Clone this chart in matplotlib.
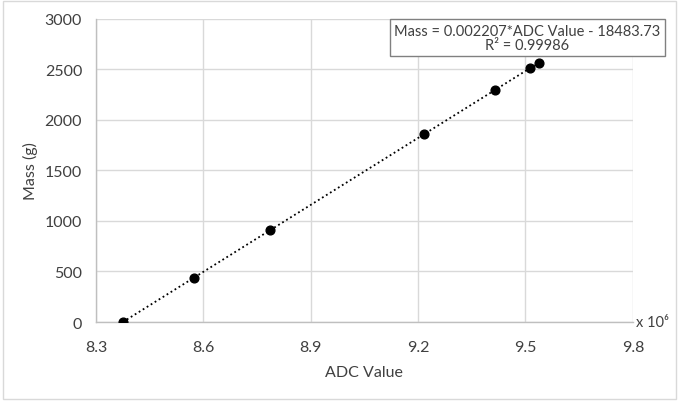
import numpy as np
import matplotlib.pyplot as plt
from matplotlib.patches import Rectangle

# datos
adc_value = [8375000, 8574000, 8787000, 9216000, 9415000, 9512000, 9538000]
mass_g = [0, 440, 910, 1855, 2295, 2510, 2565]
slope = 0.002207
intercept = -18483.73
r2 = 0.99986

x_ticks = [8.3, 8.6, 8.9, 9.2, 9.5, 9.8]
y_ticks = [0, 500, 1000, 1500, 2000, 2500, 3000]

plt.rcParams['font.family'] = ['Lato', 'DejaVu Sans']
text_color = '#404040'
grid_color = '#d9d9d9'

fig = plt.figure(figsize=(6.79, 4.02), dpi=100)
ax = fig.add_axes([0.1414, 0.1965, 0.7906, 0.7545])

x = np.array(adc_value) / 1e6

# linea de tendencia
xl = np.array([min(adc_value), max(adc_value)])
ax.plot(xl / 1e6, slope * xl + intercept, color='black', linestyle=(0, (1, 1.6)),
        linewidth=1.3, zorder=3)
ax.plot(x, mass_g, 'o', color='black', markersize=6.3, zorder=4)

ax.set_xlim(8.3, 9.8)
ax.set_ylim(0, 3000)
ax.set_xticks(x_ticks)
ax.set_yticks(y_ticks)
ax.set_xticklabels([f'{t:.1f}' for t in x_ticks])
ax.tick_params(length=0, labelsize=11.5, colors=text_color)
ax.tick_params(axis='x', pad=13)
ax.tick_params(axis='y', pad=10)
ax.grid(True, color=grid_color, linewidth=1)
ax.set_axisbelow(True)
for s in ['top', 'right']:
    ax.spines[s].set_visible(False)
for s in ['left', 'bottom']:
    ax.spines[s].set_color('#bfbfbf')
    ax.spines[s].set_linewidth(1)

ax.set_xlabel('ADC Value', fontsize=11.5, color=text_color, labelpad=8)
ax.set_ylabel('Mass (g)', fontsize=11.5, color=text_color, labelpad=5)

ax.text(1.005, 0.0, 'x 10⁶', transform=ax.transAxes, fontsize=10.5,
        color=text_color, va='center', ha='left')

# cuadro de la ecuacion
ax.text(0.803, 0.937, f'Mass = {slope:.6f}*ADC Value - {abs(intercept):.2f}\nR² = {r2}',
        transform=ax.transAxes, fontsize=10.5, color=text_color, ha='center',
        va='center', linespacing=1.05,
        bbox=dict(boxstyle='square,pad=0.3', facecolor='white', edgecolor='#808080',
                  linewidth=1))

fig.patches.append(Rectangle((0.004, 0.006), 0.992, 0.988, transform=fig.transFigure,
                             fill=False, edgecolor='#d9d9d9', linewidth=1))

fig.savefig('out.png', dpi=100)
